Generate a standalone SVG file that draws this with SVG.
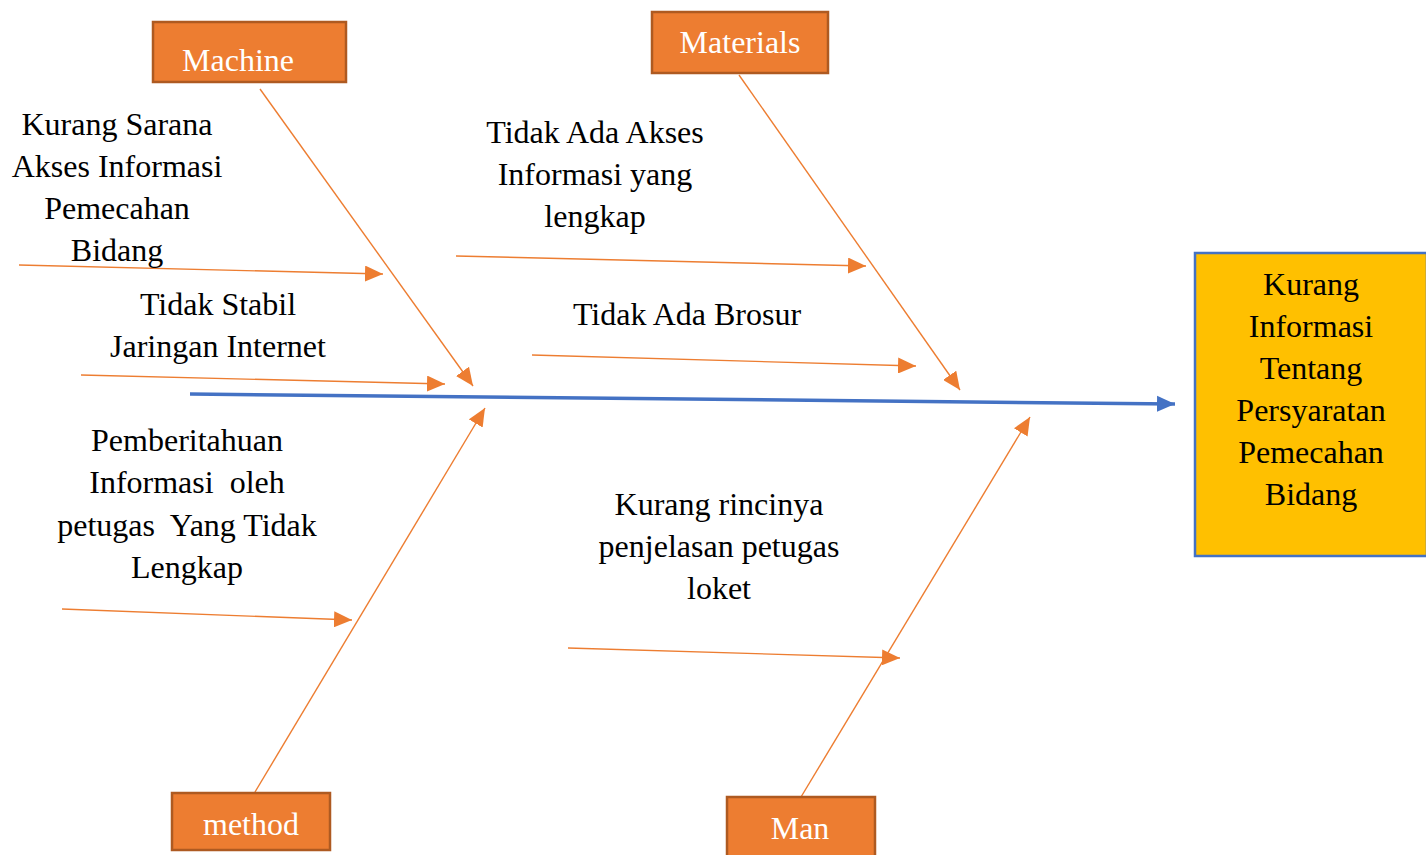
<svg xmlns="http://www.w3.org/2000/svg" width="1426" height="855" viewBox="0 0 1426 855">
<style>
.cat rect{fill:#ED7D31;stroke:#AE5A21;stroke-width:2.5}
.cat text{fill:#fff;font-family:"Liberation Serif",serif;font-size:32px;text-anchor:middle}
.lbl{fill:#000;font-family:"Liberation Serif",serif;font-size:32px;text-anchor:middle}
.br{stroke:#ED7D31;stroke-width:1.4;fill:none;marker-end:url(#oa)}
</style>
<defs>
<marker id="oa" markerUnits="userSpaceOnUse" markerWidth="20" markerHeight="16" refX="18" refY="8" orient="auto">
<path d="M0,0 L18,8 L0,16 Z" fill="#ED7D31"/>
</marker>
<marker id="ba" markerUnits="userSpaceOnUse" markerWidth="20" markerHeight="18" refX="18" refY="9" orient="auto">
<path d="M0,1 L18,9 L0,17 Z" fill="#4472C4"/>
</marker>
</defs>
<rect width="1426" height="855" fill="#fff"/>
<g id="connectors">
<line x1="190" y1="394" x2="1175" y2="404" stroke="#4472C4" stroke-width="3.5" marker-end="url(#ba)"/>
<line class="br" x1="260" y1="89" x2="473" y2="386"/>
<line class="br" x1="739" y1="75" x2="960" y2="390"/>
<line class="br" x1="255" y1="792" x2="485" y2="408"/>
<line class="br" x1="801" y1="797" x2="1030" y2="417"/>
<line class="br" x1="19" y1="265" x2="383" y2="274"/>
<line class="br" x1="81" y1="375" x2="445" y2="384"/>
<line class="br" x1="456" y1="256" x2="866" y2="266"/>
<line class="br" x1="532" y1="355" x2="916" y2="366"/>
<line class="br" x1="62" y1="609" x2="352" y2="620"/>
<line class="br" x1="568" y1="648" x2="900" y2="658"/>
</g>
<g id="machine" class="cat"><rect x="153" y="22" width="193" height="60"/><text x="238" y="71">Machine</text></g>
<g id="materials" class="cat"><rect x="652" y="12" width="176" height="61"/><text x="740" y="53">Materials</text></g>
<g id="method" class="cat"><rect x="172" y="793" width="158" height="57"/><text x="251" y="835">method</text></g>
<g id="man" class="cat"><rect x="727" y="797" width="148" height="62"/><text x="800" y="839">Man</text></g>
<g id="effect">
<rect x="1195" y="253" width="232" height="303" fill="#FFC000" stroke="#4472C4" stroke-width="2.5"/>
<text class="lbl" x="1311"><tspan x="1311" y="295">Kurang</tspan><tspan x="1311" y="337">Informasi</tspan><tspan x="1311" y="379">Tentang</tspan><tspan x="1311" y="421">Persyaratan</tspan><tspan x="1311" y="463">Pemecahan</tspan><tspan x="1311" y="505">Bidang</tspan></text>
</g>
<g id="cause-sarana"><text class="lbl"><tspan x="117" y="135">Kurang Sarana</tspan><tspan x="117" y="177">Akses Informasi</tspan><tspan x="117" y="219">Pemecahan</tspan><tspan x="117" y="261">Bidang</tspan></text></g>
<g id="cause-jaringan"><text class="lbl"><tspan x="218" y="315">Tidak Stabil</tspan><tspan x="218" y="357">Jaringan Internet</tspan></text></g>
<g id="cause-akses"><text class="lbl"><tspan x="595" y="143">Tidak Ada Akses</tspan><tspan x="595" y="185">Informasi yang</tspan><tspan x="595" y="227">lengkap</tspan></text></g>
<g id="cause-brosur"><text class="lbl" x="687" y="325">Tidak Ada Brosur</text></g>
<g id="cause-pemberitahuan"><text class="lbl" xml:space="preserve"><tspan x="187" y="451">Pemberitahuan</tspan><tspan x="187" y="493">Informasi  oleh</tspan><tspan x="187" y="536">petugas  Yang Tidak</tspan><tspan x="187" y="578">Lengkap</tspan></text></g>
<g id="cause-rincinya"><text class="lbl"><tspan x="719" y="515">Kurang rincinya</tspan><tspan x="719" y="557">penjelasan petugas</tspan><tspan x="719" y="599">loket</tspan></text></g>
</svg>
